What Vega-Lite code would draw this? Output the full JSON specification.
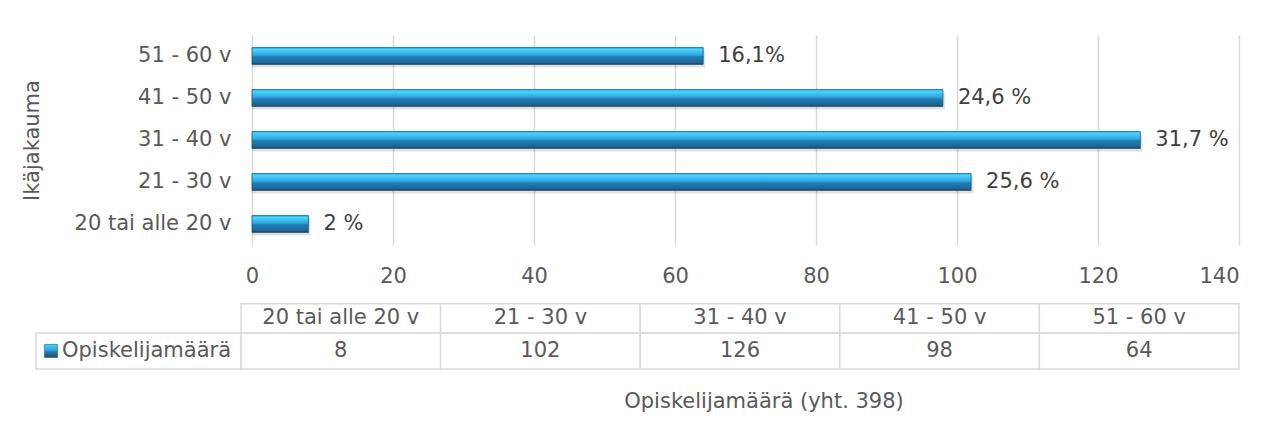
{
  "$schema": "https://vega.github.io/schema/vega-lite/v6.json",
  "padding": {"left": 21, "top": 35, "right": 5, "bottom": 5},
  "background": "white",
  "config": {
    "view": {"stroke": null},
    "font": "DejaVu Sans",
    "axis": {"labelFont": "DejaVu Sans", "titleFont": "DejaVu Sans", "labelFontSize": 21, "titleFontSize": 21, "labelColor": "#595959", "titleColor": "#595959", "titleFontWeight": "normal"},
    "text": {"font": "DejaVu Sans", "fontSize": 21}
  },
  "datasets": {
    "ages": [
      {"age": "20 tai alle 20 v", "count": 8, "pct": "2 %"},
      {"age": "21 - 30 v", "count": 102, "pct": "25,6 %"},
      {"age": "31 - 40 v", "count": 126, "pct": "31,7 %"},
      {"age": "41 - 50 v", "count": 98, "pct": "24,6 %"},
      {"age": "51 - 60 v", "count": 64, "pct": "16,1%"}
    ]
  },
  "columns": 2,
  "spacing": {"row": 0, "column": 0},
  "bounds": "flush",
  "concat": [
    {
      "width": 205, "height": 210,
      "data": {"values": [{}]},
      "mark": {"type": "point", "opacity": 0},
      "encoding": {}
    },
    {
      "width": 998, "height": 210,
      "data": {"name": "ages"},
      "encoding": {
        "y": {"field": "age", "type": "nominal",
          "sort": ["51 - 60 v", "41 - 50 v", "31 - 40 v", "21 - 30 v", "20 tai alle 20 v"],
          "scale": {"paddingInner": 0.6, "paddingOuter": 0.3},
          "axis": {"title": "Ikäjakauma", "ticks": false, "domain": false, "labelPadding": 10, "titlePadding": 32}},
        "x": {"field": "count", "type": "quantitative",
          "scale": {"domain": [-1.56, 140], "nice": false, "zero": false},
          "axis": {"values": [0, 20, 40, 60, 80, 100, 120, 140], "title": null, "domain": false, "ticks": false, "labelPadding": 20, "grid": true, "gridColor": "#d9d9d9", "gridWidth": 1.5}}
      },
      "layer": [
        {"mark": {"type": "bar", "fill": "#000000", "fillOpacity": 0.12, "xOffset": 2, "yOffset": 3}, "encoding": {"x2": {"datum": 0}}},
        {"mark": {"type": "bar", "stroke": "#1b5c87", "strokeWidth": 0.8,
          "fill": {"gradient": "linear", "x1": 0, "y1": 0, "x2": 0, "y2": 1,
            "stops": [
              {"offset": 0, "color": "#3db8e8"},
              {"offset": 0.12, "color": "#4fd0f8"},
              {"offset": 0.45, "color": "#2aa8df"},
              {"offset": 0.55, "color": "#1f7fb6"},
              {"offset": 0.9, "color": "#1a6599"},
              {"offset": 1, "color": "#123f5e"}
            ]}}, "encoding": {"x2": {"datum": 0}}},
        {"mark": {"type": "text", "align": "left", "dx": 15, "color": "#404040", "fontSize": 21}, "encoding": {"text": {"field": "pct"}}}
      ]
    },
    {
      "width": 205, "height": 88,
      "data": {"values": [{}]},
      "mark": {"type": "point", "opacity": 0},
      "encoding": {}
    },
    {
      "width": 998, "height": 88,
      "data": {"name": "ages"},
      "encoding": {
        "x": {"field": "age", "type": "nominal",
          "sort": ["20 tai alle 20 v", "21 - 30 v", "31 - 40 v", "41 - 50 v", "51 - 60 v"],
          "scale": {"paddingInner": 0, "paddingOuter": 0}, "axis": null},
        "y": {"datum": "header", "type": "nominal",
          "scale": {"domain": ["header"], "paddingInner": 0, "paddingOuter": 1.1923, "align": 1}, "axis": null}
      },
      "layer": [
        {"mark": {"type": "rect", "fill": "white", "stroke": "#d9d9d9", "strokeWidth": 1.5}},
        {"mark": {"type": "text", "color": "#595959"}, "encoding": {"text": {"field": "age"}}}
      ]
    },
    {
      "width": 205, "height": 36,
      "view": {"stroke": "#d9d9d9", "strokeWidth": 1.5},
      "data": {"values": [{"label": "Opiskelijamäärä"}]},
      "encoding": {
        "x": {"field": "label", "type": "nominal", "scale": {"type": "point", "padding": 0, "align": 0}, "axis": null}
      },
      "layer": [
        {"mark": {"type": "point", "shape": "square", "filled": true, "size": 169, "xOffset": 15, "stroke": "#1b5c87", "strokeWidth": 0.6, "opacity": 1,
          "fill": {"gradient": "linear", "x1": 0, "y1": 0, "x2": 0, "y2": 1,
            "stops": [
              {"offset": 0, "color": "#4fd0f8"},
              {"offset": 0.45, "color": "#2aa8df"},
              {"offset": 0.55, "color": "#1f7fb6"},
              {"offset": 1, "color": "#154e75"}
            ]}}},
        {"mark": {"type": "text", "align": "left", "dx": 26, "color": "#595959"}, "encoding": {"text": {"field": "label"}}}
      ]
    },
    {
      "width": 998, "height": 36,
      "data": {"name": "ages"},
      "encoding": {
        "x": {"field": "age", "type": "nominal",
          "sort": ["20 tai alle 20 v", "21 - 30 v", "31 - 40 v", "41 - 50 v", "51 - 60 v"],
          "scale": {"paddingInner": 0, "paddingOuter": 0},
          "axis": {"orient": "bottom", "labels": false, "ticks": false, "domain": false, "title": "Opiskelijamäärä (yht. 398)", "titleX": 522.5, "titlePadding": 21}},
        "y": {"datum": "v", "type": "nominal", "scale": {"paddingInner": 0, "paddingOuter": 0}, "axis": null}
      },
      "layer": [
        {"mark": {"type": "rect", "fill": "white", "stroke": "#d9d9d9", "strokeWidth": 1.5}},
        {"mark": {"type": "text", "color": "#595959"}, "encoding": {"text": {"field": "count"}}}
      ]
    }
  ]
}
